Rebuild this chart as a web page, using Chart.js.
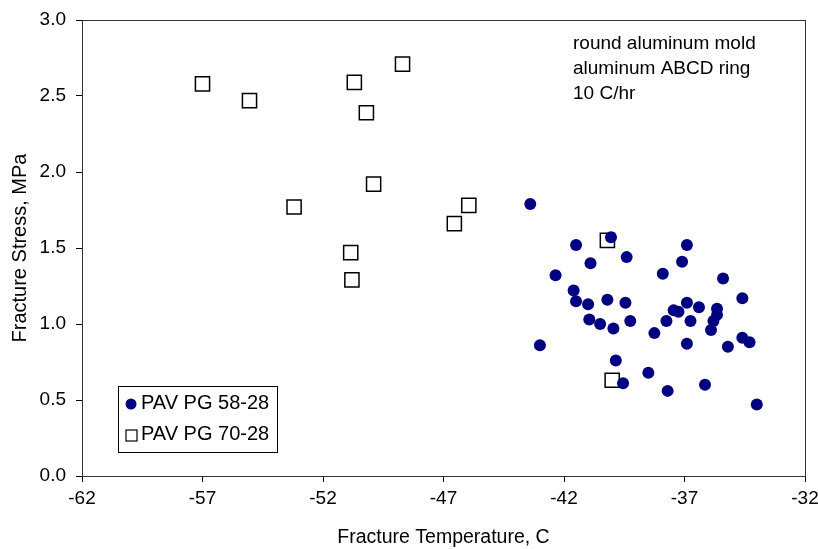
<!DOCTYPE html>
<html>
<head>
<meta charset="utf-8">
<script src="https://cdn.jsdelivr.net/npm/chart.js@4.4.1/dist/chart.umd.min.js"></script>
<style>
  html, body { margin: 0; padding: 0; background: #fff; }
  #wrap { width: 818px; height: 549px; }
</style>
</head>
<body>
<div id="wrap"><canvas id="chart" width="818" height="549"></canvas></div>
<script>
// ====================== Data ======================
const pg5828Temp = [
  -43.4, -41.5, -40.05, -40.9, -39.4, -42.35, -37.9, -41.6, -41.5, -41.0,
  -40.2, -39.45, -40.95, -40.5, -39.95, -39.25, -37.75, -38.25, -43.0, -39.85,
  -38.5, -39.55, -37.7, -36.9, -37.1, -35.4, -34.6, -36.9, -36.4, -37.45,
  -37.25, -35.65, -35.65, -35.8, -35.9, -36.75, -34.6, -34.3, -36.9, -35.2,
  -36.15, -34.0
];
const pg5828Stress = [
  1.79, 1.52, 1.57, 1.40, 1.44, 1.32, 1.33, 1.22, 1.15, 1.13,
  1.16, 1.14, 1.03, 1.00, 0.97, 1.02, 1.02, 0.94, 0.86, 0.76,
  0.68, 0.61, 0.56, 1.52, 1.41, 1.30, 1.17, 1.14, 1.11, 1.09,
  1.08, 1.10, 1.06, 1.02, 0.96, 1.02, 0.91, 0.88, 0.87, 0.85,
  0.60, 0.47
];
const pg7028Temp = [-57.0, -55.05, -53.2, -50.7, -50.2, -48.7, -49.9, -50.85, -50.8, -46.55, -45.95, -40.2, -40.0];
const pg7028Stress = [2.58, 2.47, 1.77, 2.59, 2.39, 2.71, 1.92, 1.47, 1.29, 1.66, 1.78, 1.55, 0.63];

const seriesLabels = ['PAV PG 58-28', 'PAV PG 70-28'];
const xTicks = [-62, -57, -52, -47, -42, -37, -32];
const yTicks = [0, 0.5, 1.0, 1.5, 2.0, 2.5, 3.0];
const noteLines = ['round aluminum mold', 'aluminum ABCD ring', '10 C/hr'];

const FONT = "'Liberation Sans', Arial, sans-serif";

function toPoints(xs, ys) {
  return xs.map((x, i) => ({ x: x, y: ys[i] }));
}

// ====================== Plugins ======================
// frame round the plot area
const framePlugin = {
  id: 'frame',
  afterDraw(chart) {
    const a = chart.chartArea, ctx = chart.ctx;
    ctx.save();
    ctx.strokeStyle = '#333';
    ctx.lineWidth = 1;
    ctx.strokeRect(a.left + 0.5, a.top + 0.5, a.right - a.left, a.bottom - a.top);
    ctx.restore();
  }
};

// legend box in lower left + note in upper right
const boxLegendPlugin = {
  id: 'boxLegend',
  afterDraw(chart) {
    const a = chart.chartArea, ctx = chart.ctx;
    ctx.save();
    // legend
    const bx = a.left + 36, by = a.bottom - 90, bw = 159, bh = 66;
    ctx.fillStyle = '#fff';
    ctx.fillRect(bx, by, bw, bh);
    ctx.strokeStyle = '#000';
    ctx.lineWidth = 1;
    ctx.strokeRect(bx + 0.5, by + 0.5, bw, bh);
    ctx.font = '20px ' + FONT;
    ctx.textBaseline = 'middle';
    chart.data.datasets.forEach((ds, i) => {
      const cy = by + 17 + i * 31;
      const cx = bx + 13;
      if (ds.pointStyle === 'rect') {
        ctx.fillStyle = '#fff';
        ctx.fillRect(cx - 5, cy - 4, 11, 11);
        ctx.strokeStyle = '#000';
        ctx.lineWidth = 1.2;
        ctx.strokeRect(cx - 5, cy - 4, 11, 11);
      } else {
        ctx.fillStyle = ds.backgroundColor;
        ctx.beginPath();
        ctx.arc(cx, cy + 1, 5.5, 0, Math.PI * 2);
        ctx.fill();
      }
      ctx.fillStyle = '#000';
      ctx.textAlign = 'left';
      ctx.fillText(ds.label, bx + 23, cy);
    });
    // note
    ctx.font = '19px ' + FONT;
    ctx.fillStyle = '#000';
    noteLines.forEach((t, i) => {
      ctx.fillText(t, 573, 44 + i * 25);
    });
    ctx.restore();
  }
};

// ====================== Chart ======================
const ctx = document.getElementById('chart').getContext('2d');
new Chart(ctx, {
  type: 'scatter',
  data: {
    datasets: [
      {
        label: seriesLabels[0],
        data: toPoints(pg5828Temp, pg5828Stress),
        pointStyle: 'circle',
        pointRadius: 6,
        backgroundColor: '#000080',
        borderColor: '#000080',
        borderWidth: 0
      },
      {
        label: seriesLabels[1],
        data: toPoints(pg7028Temp, pg7028Stress),
        pointStyle: 'rect',
        pointRadius: 10,
        backgroundColor: '#fff',
        borderColor: '#000',
        borderWidth: 1.5
      }
    ]
  },
  options: {
    responsive: false,
    animation: false,
    layout: { padding: { top: 20, right: 13, left: 0, bottom: 0 } },
    plugins: {
      legend: { display: false },
      tooltip: { enabled: false }
    },
    scales: {
      x: {
        type: 'linear',
        min: -62,
        max: -32,
        afterBuildTicks: s => { s.ticks = xTicks.map(v => ({ value: v })); },
        afterFit: s => { s.height = 73; s.paddingLeft = 0; s.paddingRight = 0; },
        ticks: {
          color: '#000',
          font: { family: FONT, size: 19 },
          padding: 5,
          maxRotation: 0,
          callback: v => String(v)
        },
        grid: { drawOnChartArea: false, color: '#000', tickLength: 6 },
        border: { color: '#000', width: 1 },
        title: {
          display: true,
          text: 'Fracture Temperature, C',
          color: '#000',
          font: { family: FONT, size: 19.5 },
          padding: { top: 10, bottom: 0 }
        }
      },
      y: {
        type: 'linear',
        min: 0,
        max: 3,
        afterBuildTicks: s => { s.ticks = yTicks.map(v => ({ value: v })); },
        afterFit: s => { s.width = 82; s.paddingTop = 0; s.paddingBottom = 0; },
        ticks: {
          color: '#000',
          font: { family: FONT, size: 19 },
          padding: 10,
          callback: v => v.toFixed(1)
        },
        grid: { drawOnChartArea: false, color: '#000', tickLength: 6 },
        border: { color: '#000', width: 1 },
        title: {
          display: true,
          text: 'Fracture Stress, MPa',
          color: '#000',
          font: { family: FONT, size: 20 },
          padding: { top: 8, bottom: 4 }
        }
      }
    }
  },
  plugins: [framePlugin, boxLegendPlugin]
});
</script>
</body>
</html>
